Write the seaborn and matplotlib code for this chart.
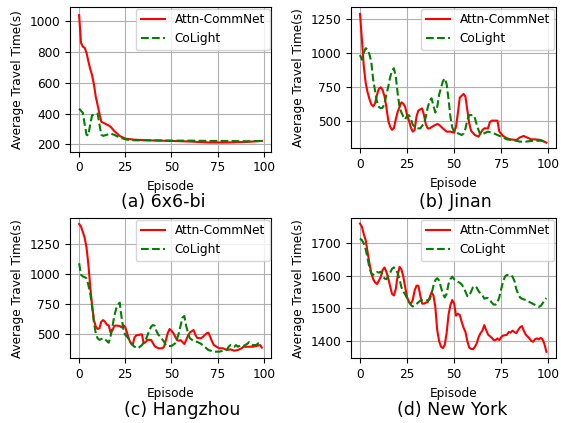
import matplotlib
matplotlib.use("Agg")
import matplotlib.pyplot as plt
import seaborn as sns
import pandas as pd

# ---------------- data ----------------
series_names = ["Attn-CommNet", "CoLight"]
captions = ["(a) 6x6-bi", "(b) Jinan", "(c) Hangzhou", "(d) New York"]
xlabel = "Episode"
ylabel = "Average Travel Time(s)"

a_red_ep = [0, 1, 2, 3, 4, 5, 6, 7, 8, 9, 10, 11, 12, 14, 16, 17, 19, 22, 25, 30, 40, 50, 60, 70, 80, 90, 99]
a_red_val = [1040, 860, 835, 828, 795, 740, 690, 650, 590, 510, 456, 400, 347, 335, 322, 315, 287, 254, 237, 230,
             225, 222, 218, 212, 212, 215, 222]
a_grn_ep = [0, 1, 2, 3, 4, 5, 6, 7, 8, 10, 11, 12, 13, 15, 17, 19, 21, 23, 26, 30, 40, 50, 60, 70, 80, 90, 99]
a_grn_val = [432, 418, 405, 330, 262, 258, 330, 388, 395, 400, 330, 262, 255, 262, 270, 262, 250, 240, 230, 226,
             226, 224, 224, 222, 222, 220, 222]

b_red_ep = [0, 1, 2, 3, 4, 5, 6, 7, 8, 9, 10, 11, 12, 13, 14, 15, 16, 17, 18, 19, 20, 21, 22, 23, 24, 25, 26, 27,
            28, 29, 30, 31, 33, 34, 35, 36, 37, 39, 41, 42, 44, 46, 48, 50, 51, 52, 53, 55, 56, 57, 58, 59, 61, 63,
            65, 66, 68, 69, 70, 73, 74, 76, 78, 80, 83, 85, 87, 88, 91, 93, 96, 99]
b_red_val = [1287, 1100, 900, 780, 710, 660, 620, 605, 628, 690, 735, 746, 726, 680, 600, 500, 456, 432, 445, 510,
             565, 600, 635, 625, 600, 542, 500, 450, 419, 431, 530, 575, 590, 540, 470, 443, 443, 461, 475, 470,
             443, 419, 419, 412, 456, 560, 670, 697, 677, 579, 480, 425, 394, 382, 430, 443, 443, 490, 500, 500,
             419, 387, 370, 362, 357, 377, 387, 380, 362, 362, 357, 338]
b_grn_ep = [0, 1, 2, 3, 4, 5, 6, 7, 8, 9, 10, 11, 12, 13, 14, 15, 16, 17, 18, 19, 20, 21, 22, 23, 24, 25, 26, 27,
            28, 30, 32, 34, 35, 36, 37, 38, 39, 40, 41, 42, 43, 44, 45, 46, 47, 48, 49, 50, 52, 54, 55, 56, 57, 58,
            60, 61, 62, 63, 64, 66, 68, 71, 73, 75, 78, 81, 85, 88, 92, 96, 99]
b_grn_val = [984, 950, 1000, 1034, 1025, 990, 930, 800, 720, 640, 600, 592, 595, 625, 690, 751, 820, 870, 886, 825,
             700, 600, 560, 530, 510, 535, 540, 515, 470, 443, 443, 480, 530, 600, 645, 665, 610, 560, 600, 690,
             740, 790, 812, 770, 660, 530, 450, 419, 407, 394, 405, 440, 505, 540, 542, 520, 470, 430, 394, 407,
             419, 407, 394, 382, 362, 357, 345, 345, 352, 352, 345]

c_red_ep = [0, 1, 2, 3, 4, 5, 6, 7, 8, 9, 10, 11, 12, 13, 14, 15, 16, 17, 18, 19, 20, 22, 23, 24, 25, 26, 27, 28,
            29, 30, 31, 34, 35, 36, 37, 39, 41, 43, 45, 46, 47, 48, 49, 50, 51, 53, 54, 55, 57, 58, 59, 60, 62, 63,
            64, 66, 67, 69, 70, 71, 72, 73, 75, 76, 78, 80, 82, 84, 86, 88, 89, 92, 94, 96, 98, 99]
c_red_val = [1416, 1395, 1350, 1300, 1220, 1080, 900, 740, 620, 565, 545, 550, 605, 618, 605, 580, 575, 515, 530,
             570, 573, 569, 558, 575, 560, 510, 460, 425, 411, 475, 492, 500, 425, 435, 455, 453, 400, 384, 384,
             397, 450, 510, 544, 530, 512, 453, 447, 452, 420, 453, 490, 515, 536, 495, 470, 467, 478, 508, 514,
             480, 440, 411, 392, 384, 384, 370, 375, 364, 370, 384, 397, 397, 397, 403, 411, 390]
c_grn_ep = [0, 1, 2, 3, 4, 5, 6, 7, 8, 9, 10, 11, 12, 13, 14, 15, 16, 17, 18, 19, 20, 21, 22, 23, 24, 25, 26, 27,
            28, 29, 30, 32, 34, 36, 37, 38, 39, 40, 41, 42, 43, 44, 46, 47, 48, 50, 52, 53, 54, 55, 56, 57, 58, 59,
            60, 62, 64, 66, 68, 70, 73, 76, 78, 80, 81, 82, 84, 85, 86, 88, 89, 91, 92, 94, 96, 97, 99]
c_grn_val = [1090, 995, 980, 975, 965, 910, 840, 740, 600, 510, 467, 455, 460, 467, 458, 445, 430, 480, 560, 647,
             710, 745, 763, 640, 535, 495, 480, 460, 430, 410, 397, 384, 411, 455, 490, 530, 564, 577, 570, 522,
             495, 481, 439, 410, 403, 403, 425, 460, 508, 575, 640, 652, 570, 510, 467, 445, 437, 422, 397, 370,
             356, 356, 364, 370, 397, 411, 397, 411, 397, 411, 403, 420, 435, 411, 411, 425, 411]

d_red_ep = list(range(0, 78)) + list(range(78, 100))
d_red_val = [1761, 1751, 1728, 1710, 1674, 1639, 1608, 1590, 1580, 1575, 1585, 1597, 1618, 1626, 1613, 1593, 1568,
             1545, 1540, 1560, 1600, 1628, 1620, 1598, 1565, 1535, 1520, 1514, 1526, 1555, 1570, 1570, 1540, 1515,
             1515, 1518, 1520, 1534, 1550, 1540, 1505, 1434, 1400, 1383, 1378, 1388, 1424, 1480, 1510, 1526, 1515,
             1478, 1484, 1480, 1459, 1441, 1428, 1400, 1380, 1376, 1375, 1382, 1393, 1412, 1424, 1432, 1449, 1434,
             1420, 1415, 1410, 1403, 1403, 1408, 1403, 1412, 1417, 1418,
             1419, 1428, 1426, 1432, 1428, 1424, 1434, 1442, 1446, 1432, 1420, 1414, 1408, 1400, 1398, 1406, 1408,
             1405, 1410, 1405, 1390, 1367]
d_grn_ep = [0, 1, 2, 3, 4, 5, 6, 7, 8, 9, 10, 11, 12, 13, 14, 15, 16, 17, 18, 19, 20, 21, 22, 23, 24, 25, 26, 27,
            28, 30, 32, 34, 36, 37, 38, 39, 40, 41, 42, 43, 44, 45, 46, 47, 48, 49, 50, 52, 53, 54, 55, 56, 57, 58,
            59, 60, 61, 62, 63, 64, 65, 66, 67, 68, 69, 70, 71, 72, 73, 74, 75, 76, 77, 78, 79, 80, 81, 82, 83, 84,
            85, 86, 88, 90, 92, 94, 95, 96, 97, 98, 99]
d_grn_val = [1715, 1710, 1700, 1682, 1655, 1625, 1608, 1603, 1610, 1612, 1610, 1613, 1605, 1592, 1590, 1598, 1610,
             1622, 1626, 1622, 1608, 1590, 1565, 1552, 1543, 1532, 1520, 1511, 1506, 1514, 1524, 1526, 1525, 1528,
             1545, 1570, 1587, 1593, 1586, 1565, 1546, 1534, 1545, 1575, 1590, 1598, 1590, 1582, 1579, 1574, 1565,
             1552, 1538, 1538, 1552, 1565, 1569, 1564, 1553, 1546, 1541, 1530, 1532, 1532, 1526, 1518, 1512, 1512,
             1518, 1535, 1560, 1582, 1598, 1603, 1603, 1603, 1598, 1585, 1560, 1545, 1534, 1530, 1526, 1520, 1514,
             1508, 1505, 1508, 1516, 1525, 1532]

panels = [
    (a_red_ep, a_red_val, a_grn_ep, a_grn_val),
    (b_red_ep, b_red_val, b_grn_ep, b_grn_val),
    (c_red_ep, c_red_val, c_grn_ep, c_grn_val),
    (d_red_ep, d_red_val, d_grn_ep, d_grn_val),
]

# ---------------- layout / style ----------------
W, H = 561, 423
plt.rcParams["font.family"] = ["DejaVu Sans"]
fs = 8.7

fig = plt.figure(figsize=(W / 100, H / 100), dpi=100)
fig.patch.set_facecolor("white")

# axes boxes in pixels: left, top, right, bottom
boxes = [(70, 7.3, 271, 151.7), (350.7, 7.3, 555.7, 148.3),
         (70, 218.3, 271, 358.3), (350.7, 218.3, 555.7, 358.3)]
ylims = [(152, 1091), (296, 1336), (301, 1463), (1347, 1777)]
cap_pos = [(162.8, 202), (455, 202), (181.7, 410), (452.5, 410)]

for i, (re, rv, ge, gv) in enumerate(panels):
    l, t, r, b = boxes[i]
    ax = fig.add_axes([l / W, 1 - b / H, (r - l) / W, (b - t) / H])
    ax.set_facecolor("white")
    df_r = pd.DataFrame({"Episode": re, "Time": rv})
    df_g = pd.DataFrame({"Episode": ge, "Time": gv})
    sns.lineplot(data=df_r, x="Episode", y="Time", ax=ax, color="red", linewidth=1.5,
                 label=series_names[0], estimator=None)
    sns.lineplot(data=df_g, x="Episode", y="Time", ax=ax, color="green", linewidth=1.5,
                 linestyle="--", label=series_names[1], estimator=None)
    ax.set_xlim(-4.95, 103.95)
    ax.set_ylim(*ylims[i])
    ax.set_xticks([0, 25, 50, 75, 100])
    ax.grid(True, color="#b0b0b0", linewidth=0.8)
    ax.set_axisbelow(True)
    for s in ax.spines.values():
        s.set_color("black")
        s.set_linewidth(0.8)
    ax.tick_params(labelsize=fs, length=3.5, width=0.8, colors="black")
    ax.set_xlabel(xlabel, fontsize=fs)
    ax.set_ylabel(ylabel, fontsize=fs)
    ax.legend(loc="upper right", fontsize=fs, borderaxespad=0.1, framealpha=0.8)
    cx, cy = cap_pos[i]
    fig.text(cx / W, 1 - cy / H, captions[i], fontsize=12.5, ha="center", va="center")

fig.savefig("out.png", dpi=100, facecolor="white")
